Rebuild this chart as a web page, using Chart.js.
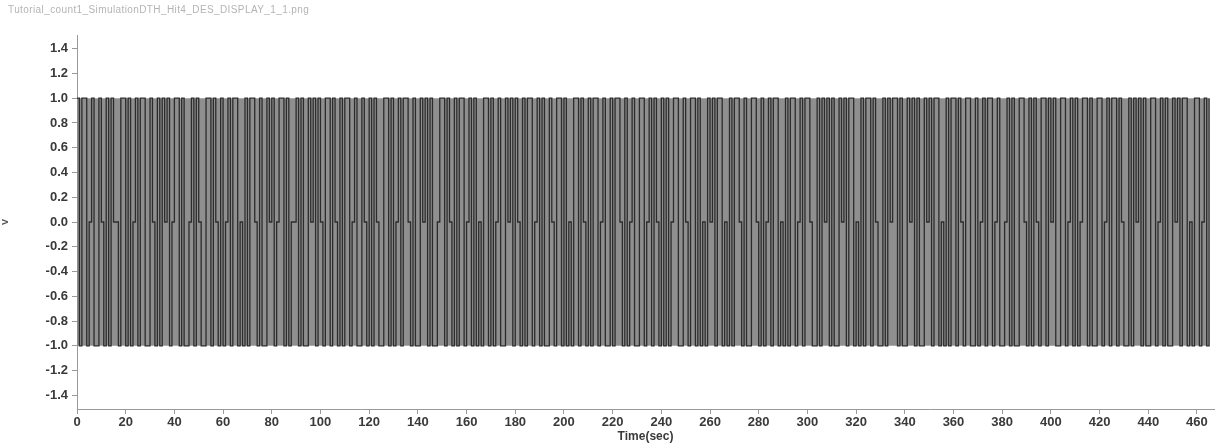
<!DOCTYPE html>
<html>
<head>
<meta charset="utf-8">
<script src="https://cdn.jsdelivr.net/npm/chart.js@4"></script>
<style>
    html, body { margin: 0; padding: 0; background: #fff; }
    #wrap { position: relative; width: 1221px; height: 446px; }
    #fileName {
        position: absolute; left: 8px; top: 4px;
        font: 10px "Liberation Sans", Arial, sans-serif;
        color: #b4b4b4; letter-spacing: 0.4px; white-space: nowrap;
    }
</style>
</head>
<body>
<div id="wrap">
    <div id="fileName">Tutorial_count1_SimulationDTH_Hit4_DES_DISPLAY_1_1.png</div>
    <canvas id="waveChart" width="1221" height="446"></canvas>
</div>
<script>
// axis ticks
const xTickValues = [0, 20, 40, 60, 80, 100, 120, 140, 160, 180, 200, 220, 240,
    260, 280, 300, 320, 340, 360, 380, 400, 420, 440, 460];
const yTickValues = [-1.4, -1.2, -1.0, -0.8, -0.6, -0.4, -0.2, 0.0,
    0.2, 0.4, 0.6, 0.8, 1.0, 1.2, 1.4];

// signal level, one sample per second (0 .. 465 s)
const sampleStep = 1;
const signalLevels = [
    1,-1,1,1,-1,0,1,-1,-1,1,0,-1,1,-1,1,0,0,-1,1,1,
    -1,1,-1,0,1,-1,1,1,-1,-1,1,0,-1,1,-1,1,0,1,-1,0,
    1,1,-1,1,-1,-1,0,1,-1,1,0,-1,-1,1,1,-1,1,0,-1,1,
    -1,0,1,-1,1,1,-1,0,-1,1,-1,1,1,0,-1,1,-1,-1,1,0,
    1,-1,0,1,1,-1,1,-1,0,0,1,-1,1,-1,-1,1,0,1,-1,1,
    0,-1,1,1,-1,1,0,-1,1,-1,1,1,-1,0,1,-1,-1,1,0,-1,
    1,-1,1,0,-1,-1,1,1,-1,1,-1,0,1,-1,1,1,0,-1,1,-1,
    -1,1,0,1,-1,1,-1,-1,0,1,1,-1,1,0,-1,1,-1,1,1,-1,
    0,1,-1,1,-1,0,-1,1,1,-1,1,-1,0,1,-1,-1,1,0,1,-1,
    1,0,-1,1,-1,1,1,-1,0,1,-1,1,-1,-1,1,0,-1,1,1,-1,
    1,-1,0,-1,1,1,-1,1,0,-1,1,-1,1,1,-1,0,1,-1,-1,1,
    -1,1,1,0,-1,1,-1,0,1,-1,-1,1,1,-1,0,1,-1,1,0,-1,
    1,-1,1,-1,0,1,1,-1,-1,1,0,-1,1,1,-1,1,-1,0,-1,1,
    0,1,-1,1,1,-1,0,-1,1,-1,1,1,0,-1,1,-1,-1,1,1,0,
    -1,1,-1,0,1,-1,1,1,-1,0,-1,1,-1,1,1,-1,0,1,-1,1,
    1,0,-1,-1,1,-1,1,0,1,-1,1,-1,-1,1,0,1,-1,1,1,-1,
    0,-1,1,-1,1,1,-1,1,0,-1,-1,1,-1,1,0,1,1,-1,1,-1,
    -1,1,0,1,-1,1,-1,-1,1,0,1,-1,1,1,-1,0,-1,1,-1,1,
    1,-1,1,0,-1,1,1,-1,-1,1,-1,0,1,-1,1,1,-1,0,1,-1,
    -1,0,1,-1,1,-1,-1,1,1,0,-1,1,-1,1,0,-1,1,1,-1,1,
    0,1,-1,-1,1,1,-1,0,1,-1,1,-1,0,1,1,-1,1,-1,-1,1,
    1,-1,0,1,-1,1,1,-1,1,0,-1,-1,1,-1,1,0,1,-1,1,-1,
    -1,1,1,-1,0,1,-1,1,-1,-1,1,0,1,-1,1,1,-1,0,-1,1,
    1,-1,0,1,-1,1
];

// grey envelope behind the transitions
const bandTime = [0, 465];
const bandHigh = [1, 1];
const bandLow = [-1, -1];

const tickFont = { family: '"Liberation Sans Narrow", "Liberation Sans", Arial', size: 13, weight: 'bold' };

const ctx = document.getElementById('waveChart').getContext('2d');
new Chart(ctx, {
    type: 'line',
    data: {
        datasets: [
            {
                label: 'signal',
                data: signalLevels.map((v, i) => ({ x: i * sampleStep, y: v })),
                stepped: true,
                borderColor: '#2c2c2c',
                borderWidth: 1.3,
                pointRadius: 0,
                fill: false,
                order: 0
            },
            {
                label: 'bandHigh',
                data: bandTime.map((t, i) => ({ x: t, y: bandHigh[i] })),
                borderWidth: 0,
                pointRadius: 0,
                backgroundColor: '#8f8f8f',
                fill: '+1',
                order: 1
            },
            {
                label: 'bandLow',
                data: bandTime.map((t, i) => ({ x: t, y: bandLow[i] })),
                borderWidth: 0,
                pointRadius: 0,
                fill: false,
                order: 2
            }
        ]
    },
    options: {
        responsive: false,
        animation: false,
        layout: { padding: { top: 35, right: 7, left: 0, bottom: 0 } },
        plugins: {
            legend: { display: false },
            tooltip: { enabled: false }
        },
        scales: {
            x: {
                type: 'linear',
                min: 0,
                max: 467,
                afterBuildTicks: s => { s.ticks = xTickValues.map(v => ({ value: v })); },
                afterFit: s => { s.height = 37; },
                ticks: { color: '#3a3a3a', font: tickFont, padding: 1, maxRotation: 0, autoSkip: false },
                grid: { drawOnChartArea: false, tickLength: 5, tickColor: '#9a9a9a' },
                border: { color: '#9a9a9a' },
                title: {
                    display: true, text: 'Time(sec)', color: '#3a3a3a',
                    font: { family: '"Liberation Sans Narrow", "Liberation Sans", Arial', size: 12, weight: 'bold' },
                    padding: { top: -3, bottom: 2 }
                }
            },
            y: {
                type: 'linear',
                min: -1.51,
                max: 1.51,
                afterBuildTicks: s => { s.ticks = yTickValues.map(v => ({ value: v })); },
                afterFit: s => { s.width = 77; },
                ticks: { color: '#3a3a3a', font: tickFont, padding: 4, autoSkip: false,
                    callback: v => Number(v).toFixed(1) },
                grid: { drawOnChartArea: false, tickLength: 5, tickColor: '#9a9a9a' },
                border: { color: '#9a9a9a' },
                title: {
                    display: true, text: 'V', color: '#555',
                    font: { family: '"Liberation Sans", Arial', size: 9, weight: 'bold' },
                    padding: { top: 0, bottom: 0 }
                }
            }
        }
    }
});
</script>
</body>
</html>
